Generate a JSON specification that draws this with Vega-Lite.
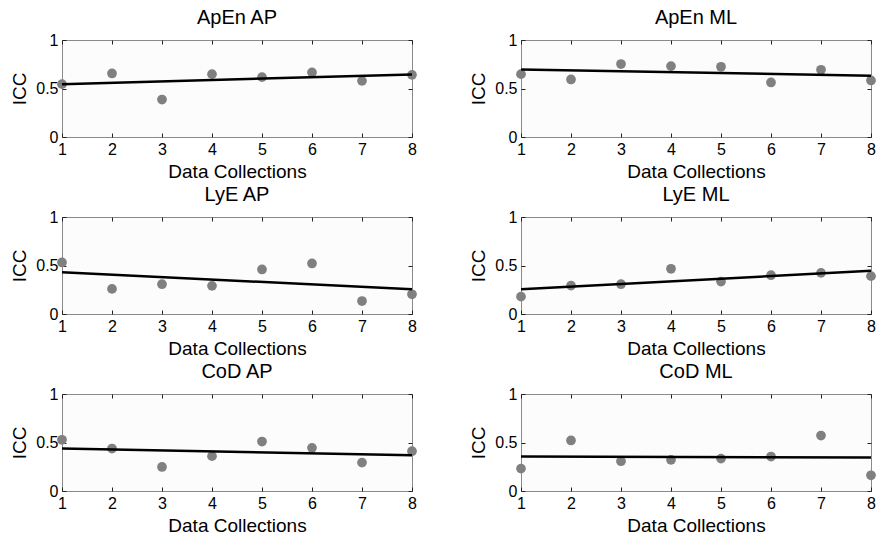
{
  "$schema": "https://vega.github.io/schema/vega-lite/v6.json",
  "padding": {"left": 10, "top": 7, "right": 0, "bottom": 0},
  "background": "white",
  "config": {
    "font": "Liberation Sans",
    "view": {"stroke": "#8a8a8a", "strokeWidth": 1, "fill": "#fcfcfc"},
    "axis": {"domain": false, "grid": false, "tickSize": -4, "tickColor": "#222222", "tickWidth": 1, "format": "~g", "labelFont": "Liberation Sans", "labelFontSize": 16, "labelColor": "black", "labelPadding": 8, "titleFont": "Liberation Sans", "titleFontSize": 19, "titleFontWeight": "normal", "titleColor": "black", "labelFlush": false, "labelOverlap": false},
    "axisX": {"titlePadding": 5},
    "axisY": {"titlePadding": 6},
    "title": {"font": "Liberation Sans", "fontSize": 20, "fontWeight": "normal", "color": "black", "offset": 0}
  },
  "datasets": {
    "pts": [
      {"panel": "ApEn AP", "x": 1, "icc": 0.545}, {"panel": "ApEn AP", "x": 2, "icc": 0.655}, {"panel": "ApEn AP", "x": 3, "icc": 0.386}, {"panel": "ApEn AP", "x": 4, "icc": 0.648},
      {"panel": "ApEn AP", "x": 5, "icc": 0.617}, {"panel": "ApEn AP", "x": 6, "icc": 0.666}, {"panel": "ApEn AP", "x": 7, "icc": 0.579}, {"panel": "ApEn AP", "x": 8, "icc": 0.641},
      {"panel": "ApEn ML", "x": 1, "icc": 0.648}, {"panel": "ApEn ML", "x": 2, "icc": 0.593}, {"panel": "ApEn ML", "x": 3, "icc": 0.752}, {"panel": "ApEn ML", "x": 4, "icc": 0.731},
      {"panel": "ApEn ML", "x": 5, "icc": 0.724}, {"panel": "ApEn ML", "x": 6, "icc": 0.562}, {"panel": "ApEn ML", "x": 7, "icc": 0.693}, {"panel": "ApEn ML", "x": 8, "icc": 0.583},
      {"panel": "LyE AP", "x": 1, "icc": 0.531}, {"panel": "LyE AP", "x": 2, "icc": 0.259}, {"panel": "LyE AP", "x": 3, "icc": 0.307}, {"panel": "LyE AP", "x": 4, "icc": 0.290},
      {"panel": "LyE AP", "x": 5, "icc": 0.459}, {"panel": "LyE AP", "x": 6, "icc": 0.521}, {"panel": "LyE AP", "x": 7, "icc": 0.134}, {"panel": "LyE AP", "x": 8, "icc": 0.203},
      {"panel": "LyE ML", "x": 1, "icc": 0.179}, {"panel": "LyE ML", "x": 2, "icc": 0.293}, {"panel": "LyE ML", "x": 3, "icc": 0.307}, {"panel": "LyE ML", "x": 4, "icc": 0.466},
      {"panel": "LyE ML", "x": 5, "icc": 0.334}, {"panel": "LyE ML", "x": 6, "icc": 0.400}, {"panel": "LyE ML", "x": 7, "icc": 0.424}, {"panel": "LyE ML", "x": 8, "icc": 0.390},
      {"panel": "CoD AP", "x": 1, "icc": 0.528}, {"panel": "CoD AP", "x": 2, "icc": 0.438}, {"panel": "CoD AP", "x": 3, "icc": 0.248}, {"panel": "CoD AP", "x": 4, "icc": 0.359},
      {"panel": "CoD AP", "x": 5, "icc": 0.510}, {"panel": "CoD AP", "x": 6, "icc": 0.445}, {"panel": "CoD AP", "x": 7, "icc": 0.293}, {"panel": "CoD AP", "x": 8, "icc": 0.410},
      {"panel": "CoD ML", "x": 1, "icc": 0.231}, {"panel": "CoD ML", "x": 2, "icc": 0.521}, {"panel": "CoD ML", "x": 3, "icc": 0.307}, {"panel": "CoD ML", "x": 4, "icc": 0.321},
      {"panel": "CoD ML", "x": 5, "icc": 0.334}, {"panel": "CoD ML", "x": 6, "icc": 0.355}, {"panel": "CoD ML", "x": 7, "icc": 0.572}, {"panel": "CoD ML", "x": 8, "icc": 0.162}
    ],
    "fits": [
      {"panel": "ApEn AP", "x": 1, "fit": 0.545}, {"panel": "ApEn AP", "x": 8, "fit": 0.645},
      {"panel": "ApEn ML", "x": 1, "fit": 0.697}, {"panel": "ApEn ML", "x": 8, "fit": 0.631},
      {"panel": "LyE AP", "x": 1, "fit": 0.431}, {"panel": "LyE AP", "x": 8, "fit": 0.255},
      {"panel": "LyE ML", "x": 1, "fit": 0.255}, {"panel": "LyE ML", "x": 8, "fit": 0.445},
      {"panel": "CoD AP", "x": 1, "fit": 0.438}, {"panel": "CoD AP", "x": 8, "fit": 0.369},
      {"panel": "CoD ML", "x": 1, "fit": 0.355}, {"panel": "CoD ML", "x": 8, "fit": 0.345}
    ]
  },
  "bounds": "flush",
  "columns": 2,
  "spacing": {"row": 80, "column": 109},
  "concat": [
      {"width": 350, "height": 97, "title": "ApEn AP", "resolve": {"axis": {"x": "independent", "y": "independent"}}, "layer": [
        {"data": {"name": "pts"}, "transform": [{"filter": "datum.panel == 'ApEn AP'"}], "mark": {"type": "circle", "size": 95, "color": "#808080", "opacity": 1},
         "encoding": {"x": {"field": "x", "type": "quantitative", "scale": {"domain": [1, 8], "nice": false}, "axis": {"orient": "bottom", "values": [1,2,3,4,5,6,7,8], "title": "Data Collections"}},
                      "y": {"field": "icc", "type": "quantitative", "scale": {"domain": [0, 1], "nice": false}, "axis": {"orient": "left", "values": [0, 0.5, 1], "title": "ICC"}}}},
        {"data": {"name": "fits"}, "transform": [{"filter": "datum.panel == 'ApEn AP'"}], "mark": {"type": "line", "color": "black", "strokeWidth": 2.5},
         "encoding": {"x": {"field": "x", "type": "quantitative", "axis": {"orient": "top", "values": [1,2,3,4,5,6,7,8], "labels": false, "title": null}},
                      "y": {"field": "fit", "type": "quantitative", "axis": {"orient": "right", "values": [0, 0.5, 1], "labels": false, "title": null}}}}
      ]},
      {"width": 350, "height": 97, "title": "ApEn ML", "resolve": {"axis": {"x": "independent", "y": "independent"}}, "layer": [
        {"data": {"name": "pts"}, "transform": [{"filter": "datum.panel == 'ApEn ML'"}], "mark": {"type": "circle", "size": 95, "color": "#808080", "opacity": 1},
         "encoding": {"x": {"field": "x", "type": "quantitative", "scale": {"domain": [1, 8], "nice": false}, "axis": {"orient": "bottom", "values": [1,2,3,4,5,6,7,8], "title": "Data Collections"}},
                      "y": {"field": "icc", "type": "quantitative", "scale": {"domain": [0, 1], "nice": false}, "axis": {"orient": "left", "values": [0, 0.5, 1], "title": "ICC"}}}},
        {"data": {"name": "fits"}, "transform": [{"filter": "datum.panel == 'ApEn ML'"}], "mark": {"type": "line", "color": "black", "strokeWidth": 2.5},
         "encoding": {"x": {"field": "x", "type": "quantitative", "axis": {"orient": "top", "values": [1,2,3,4,5,6,7,8], "labels": false, "title": null}},
                      "y": {"field": "fit", "type": "quantitative", "axis": {"orient": "right", "values": [0, 0.5, 1], "labels": false, "title": null}}}}
      ]},
      {"width": 350, "height": 97, "title": "LyE AP", "resolve": {"axis": {"x": "independent", "y": "independent"}}, "layer": [
        {"data": {"name": "pts"}, "transform": [{"filter": "datum.panel == 'LyE AP'"}], "mark": {"type": "circle", "size": 95, "color": "#808080", "opacity": 1},
         "encoding": {"x": {"field": "x", "type": "quantitative", "scale": {"domain": [1, 8], "nice": false}, "axis": {"orient": "bottom", "values": [1,2,3,4,5,6,7,8], "title": "Data Collections"}},
                      "y": {"field": "icc", "type": "quantitative", "scale": {"domain": [0, 1], "nice": false}, "axis": {"orient": "left", "values": [0, 0.5, 1], "title": "ICC"}}}},
        {"data": {"name": "fits"}, "transform": [{"filter": "datum.panel == 'LyE AP'"}], "mark": {"type": "line", "color": "black", "strokeWidth": 2.5},
         "encoding": {"x": {"field": "x", "type": "quantitative", "axis": {"orient": "top", "values": [1,2,3,4,5,6,7,8], "labels": false, "title": null}},
                      "y": {"field": "fit", "type": "quantitative", "axis": {"orient": "right", "values": [0, 0.5, 1], "labels": false, "title": null}}}}
      ]},
      {"width": 350, "height": 97, "title": "LyE ML", "resolve": {"axis": {"x": "independent", "y": "independent"}}, "layer": [
        {"data": {"name": "pts"}, "transform": [{"filter": "datum.panel == 'LyE ML'"}], "mark": {"type": "circle", "size": 95, "color": "#808080", "opacity": 1},
         "encoding": {"x": {"field": "x", "type": "quantitative", "scale": {"domain": [1, 8], "nice": false}, "axis": {"orient": "bottom", "values": [1,2,3,4,5,6,7,8], "title": "Data Collections"}},
                      "y": {"field": "icc", "type": "quantitative", "scale": {"domain": [0, 1], "nice": false}, "axis": {"orient": "left", "values": [0, 0.5, 1], "title": "ICC"}}}},
        {"data": {"name": "fits"}, "transform": [{"filter": "datum.panel == 'LyE ML'"}], "mark": {"type": "line", "color": "black", "strokeWidth": 2.5},
         "encoding": {"x": {"field": "x", "type": "quantitative", "axis": {"orient": "top", "values": [1,2,3,4,5,6,7,8], "labels": false, "title": null}},
                      "y": {"field": "fit", "type": "quantitative", "axis": {"orient": "right", "values": [0, 0.5, 1], "labels": false, "title": null}}}}
      ]},
      {"width": 350, "height": 97, "title": "CoD AP", "resolve": {"axis": {"x": "independent", "y": "independent"}}, "layer": [
        {"data": {"name": "pts"}, "transform": [{"filter": "datum.panel == 'CoD AP'"}], "mark": {"type": "circle", "size": 95, "color": "#808080", "opacity": 1},
         "encoding": {"x": {"field": "x", "type": "quantitative", "scale": {"domain": [1, 8], "nice": false}, "axis": {"orient": "bottom", "values": [1,2,3,4,5,6,7,8], "title": "Data Collections"}},
                      "y": {"field": "icc", "type": "quantitative", "scale": {"domain": [0, 1], "nice": false}, "axis": {"orient": "left", "values": [0, 0.5, 1], "title": "ICC"}}}},
        {"data": {"name": "fits"}, "transform": [{"filter": "datum.panel == 'CoD AP'"}], "mark": {"type": "line", "color": "black", "strokeWidth": 2.5},
         "encoding": {"x": {"field": "x", "type": "quantitative", "axis": {"orient": "top", "values": [1,2,3,4,5,6,7,8], "labels": false, "title": null}},
                      "y": {"field": "fit", "type": "quantitative", "axis": {"orient": "right", "values": [0, 0.5, 1], "labels": false, "title": null}}}}
      ]},
      {"width": 350, "height": 97, "title": "CoD ML", "resolve": {"axis": {"x": "independent", "y": "independent"}}, "layer": [
        {"data": {"name": "pts"}, "transform": [{"filter": "datum.panel == 'CoD ML'"}], "mark": {"type": "circle", "size": 95, "color": "#808080", "opacity": 1},
         "encoding": {"x": {"field": "x", "type": "quantitative", "scale": {"domain": [1, 8], "nice": false}, "axis": {"orient": "bottom", "values": [1,2,3,4,5,6,7,8], "title": "Data Collections"}},
                      "y": {"field": "icc", "type": "quantitative", "scale": {"domain": [0, 1], "nice": false}, "axis": {"orient": "left", "values": [0, 0.5, 1], "title": "ICC"}}}},
        {"data": {"name": "fits"}, "transform": [{"filter": "datum.panel == 'CoD ML'"}], "mark": {"type": "line", "color": "black", "strokeWidth": 2.5},
         "encoding": {"x": {"field": "x", "type": "quantitative", "axis": {"orient": "top", "values": [1,2,3,4,5,6,7,8], "labels": false, "title": null}},
                      "y": {"field": "fit", "type": "quantitative", "axis": {"orient": "right", "values": [0, 0.5, 1], "labels": false, "title": null}}}}
      ]}
  ]
}
